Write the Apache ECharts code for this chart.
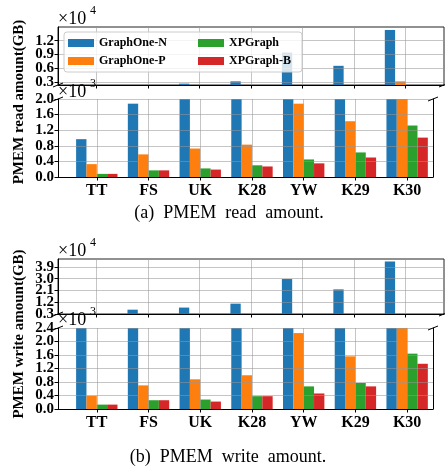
<!DOCTYPE html>
<html>
<head>
<meta charset="utf-8">
<script src="https://cdn.jsdelivr.net/npm/echarts@6.0.0/dist/echarts.min.js"></script>
<style>
  html, body { margin: 0; padding: 0; background: #fff; }
  #main { width: 445px; height: 468px; }
</style>
</head>
<body>
<div id="main"></div>
<script>
// categories and values (GB)
const categories = ['TT', 'FS', 'UK', 'K28', 'YW', 'K29', 'K30']
const seriesNames = ['GraphOne-N', 'GraphOne-P', 'XPGraph', 'XPGraph-B']
const colors = ['#1f77b4', '#ff7f0e', '#2ca02c', '#d62728']

// (a) PMEM read amount
const readN = [970, 1880, 2600, 3100, 9400, 6500, 14350]
const readP = [330, 580, 730, 830, 1880, 1430, 3100]
const readX = [80, 170, 220, 300, 450, 630, 1320]
const readXB = [80, 170, 190, 270, 350, 500, 1010]

// (b) PMEM write amount
const writeN = [2700, 6300, 7900, 10900, 29700, 21800, 43100]
const writeP = [390, 700, 880, 1000, 2250, 1560, 2700]
const writeX = [130, 260, 280, 380, 670, 770, 1640]
const writeXB = [130, 260, 220, 380, 460, 670, 1340]

// tick values
const readUpperTicks = [3000, 6000, 9000, 12000]
const readLowerTicks = [0, 400, 800, 1200, 1600, 2000]
const writeUpperTicks = [3000, 12000, 21000, 30000, 39000]
const writeLowerTicks = [0, 400, 800, 1200, 1600, 2000, 2400]
const catTicks = [0, 1, 2, 3, 4, 5, 6]

const FONT = 'Liberation Serif'
const gridColor = 'rgba(150,150,150,0.55)'

const chart = echarts.init(document.getElementById('main'))

const grids = [
  { left: 58, top: 27, width: 386, height: 58, show: true, borderColor: '#222', borderWidth: 1 },
  { left: 58, top: 99, width: 375, height: 78 },
  { left: 58, top: 259, width: 386, height: 55, show: true, borderColor: '#222', borderWidth: 1 },
  { left: 58, top: 328, width: 375, height: 81 }
]

function xAxisFor(gridIndex, lower) {
  return {
    type: 'value',
    gridIndex: gridIndex,
    min: -0.75,
    max: lower ? 6.5 : 6.75,
    z: 3,
    axisLine: { show: true, onZero: false, lineStyle: { color: '#000', width: 1 } },
    axisTick: { show: true, length: 3.5, customValues: catTicks, lineStyle: { color: '#000' } },
    axisLabel: {
      show: lower,
      customValues: catTicks,
      formatter: v => categories[Math.round(v)],
      fontFamily: FONT, fontWeight: 'bold', fontSize: 16, color: '#000', margin: 6
    },
    splitLine: { show: true, lineStyle: { color: gridColor, width: 1 } }
  }
}

const labelStyle = { fontFamily: FONT, fontWeight: 'bold', fontSize: 15, color: '#000', margin: 4 }

// main axis: line, ticks, grid lines, every other label
function yAxisFor(gridIndex, min, max, ticks, div) {
  return {
    type: 'value', gridIndex: gridIndex, min: min, max: max, z: 3,
    axisLine: { show: true, onZero: false, lineStyle: { color: '#000', width: 1 } },
    axisTick: { show: true, length: 3.5, customValues: ticks, lineStyle: { color: '#000' } },
    axisLabel: Object.assign({
      customValues: ticks.filter((t, i) => i % 2 === 0),
      showMinLabel: true, showMaxLabel: true,
      formatter: v => (v / div).toFixed(1)
    }, labelStyle),
    splitLine: { show: true, lineStyle: { color: gridColor, width: 1 } }
  }
}
// twin axis on the same side carrying the remaining labels
function yTwinFor(gridIndex, min, max, ticks, div) {
  return {
    type: 'value', gridIndex: gridIndex, position: 'left', offset: 0, min: min, max: max, z: 3,
    axisLine: { show: false, onZero: false },
    axisTick: { show: false },
    axisLabel: Object.assign({
      customValues: ticks.filter((t, i) => i % 2 === 1),
      showMinLabel: true, showMaxLabel: true,
      formatter: v => (v / div).toFixed(1)
    }, labelStyle),
    splitLine: { show: false }
  }
}

function rightFrame(gridIndex) {
  return {
    type: 'value', gridIndex: gridIndex, position: 'right', min: 0, max: 1, z: 3,
    axisLine: { show: true, onZero: false, lineStyle: { color: '#000', width: 1 } },
    axisTick: { show: false }, axisLabel: { show: false }, splitLine: { show: false }
  }
}

const series = []
function addBars(gridIndex, lists) {
  lists.forEach((vals, k) => {
    series.push({
      type: 'bar',
      name: seriesNames[k],
      xAxisIndex: gridIndex,
      yAxisIndex: gridIndex,
      data: vals.map((v, i) => [i, v]),
      barWidth: '20%',
      barGap: '0%',
      clip: true,
      itemStyle: { color: colors[k] }
    })
  })
}
addBars(0, [readN, readP, readX, readXB])
addBars(1, [readN, readP, readX, readXB])
addBars(2, [writeN, writeP, writeX, writeXB])
addBars(3, [writeN, writeP, writeX, writeXB])

function txt(x, y, text, size, weight, align, rotation) {
  return {
    type: 'text', x: x, y: y, z: 10, rotation: rotation || 0,
    style: {
      text: text, fontFamily: FONT, fontSize: size, fontWeight: weight,
      fill: '#000', align: align || 'left', verticalAlign: 'middle'
    }
  }
}
function brk(x, y) {
  return { type: 'line', z: 10, shape: { x1: x - 5, y1: y + 2, x2: x + 5, y2: y - 2 }, style: { stroke: '#000', lineWidth: 1 } }
}

const legendText = { fontFamily: FONT, fontWeight: 'bold', fontSize: 12, color: '#000', width: 70, lineHeight: 18 }

const option = {
  animation: false,
  backgroundColor: '#fff',
  grid: grids,
  legend: [
    {
      data: ['GraphOne-N', 'GraphOne-P'],
      orient: 'vertical', left: 64, top: 32, itemGap: 0,
      itemWidth: 26, itemHeight: 8,
      padding: [2, 133, 2, 4],
      backgroundColor: 'rgba(255,255,255,0.8)',
      borderColor: '#ccc', borderWidth: 1, borderRadius: 3,
      textStyle: legendText,
      icon: 'rect'
    },
    {
      data: ['XPGraph', 'XPGraph-B'],
      orient: 'vertical', left: 194, top: 32, itemGap: 0, z: 5,
      itemWidth: 26, itemHeight: 8,
      padding: [2, 4, 2, 4],
      textStyle: legendText,
      icon: 'rect'
    }
  ],
  xAxis: [xAxisFor(0, false), xAxisFor(1, true), xAxisFor(2, false), xAxisFor(3, true)],
  yAxis: [
    yAxisFor(0, 2300, 15000, readUpperTicks, 10000),
    yAxisFor(1, 0, 2000, readLowerTicks, 1000),
    yAxisFor(2, 3000, 45000, writeUpperTicks, 10000),
    yAxisFor(3, 0, 2400, writeLowerTicks, 1000),
    yTwinFor(0, 2300, 15000, readUpperTicks, 10000),
    yTwinFor(1, 0, 2000, readLowerTicks, 1000),
    yTwinFor(2, 3000, 45000, writeUpperTicks, 10000),
    yTwinFor(3, 0, 2400, writeLowerTicks, 1000),
    rightFrame(1),
    rightFrame(3)
  ],
  series: series,
  graphic: [
    txt(58, 19, '×10', 18, 'normal'),
    txt(90, 11, '4', 12, 'normal'),
    txt(58, 92, '×10', 18, 'normal'),
    txt(90, 84, '3', 12, 'normal'),
    txt(58, 251, '×10', 18, 'normal'),
    txt(90, 243, '4', 12, 'normal'),
    txt(58, 320, '×10', 18, 'normal'),
    txt(90, 312, '3', 12, 'normal'),
    txt(19, 102, 'PMEM read amount(GB)', 15, 'bold', 'center', Math.PI / 2),
    txt(19, 334, 'PMEM write amount(GB)', 15, 'bold', 'center', Math.PI / 2),
    txt(229, 213, '(a)  PMEM  read  amount.', 18, 'normal', 'center'),
    txt(228, 457, '(b)  PMEM  write  amount.', 18, 'normal', 'center'),
    brk(58, 85), brk(58, 99), brk(444, 85), brk(433, 99),
    brk(58, 314), brk(58, 328), brk(444, 314), brk(433, 328)
  ]
}
chart.setOption(option)
</script>
</body>
</html>
